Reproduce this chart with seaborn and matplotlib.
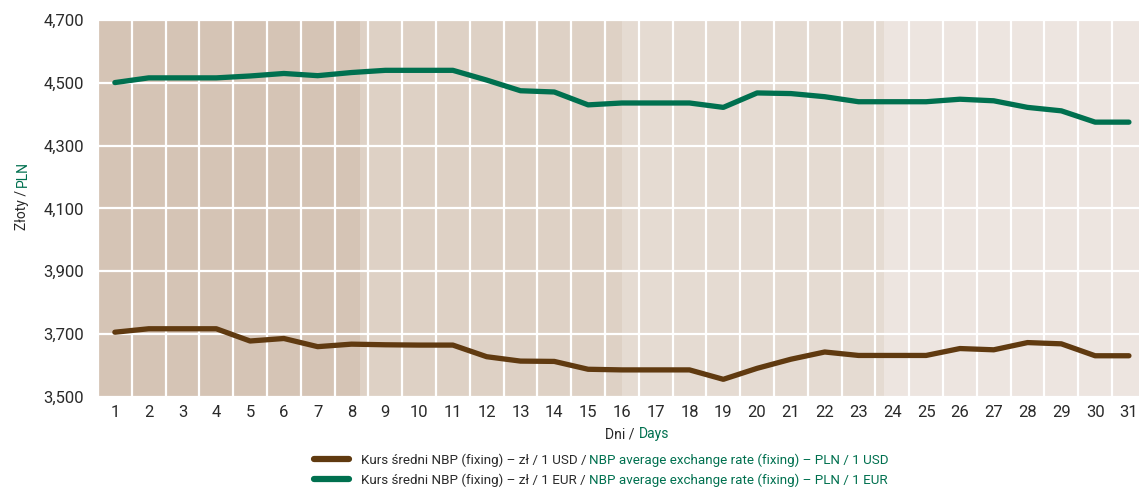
import numpy as np
import pandas as pd
import matplotlib.pyplot as plt
import seaborn as sns
from matplotlib.lines import Line2D
from matplotlib.ticker import FuncFormatter, MultipleLocator

days = list(range(1, 32))
usd = [3706, 3717, 3717, 3717, 3678, 3686, 3660, 3668, 3666, 3665,
       3665, 3628, 3614, 3613, 3588, 3586, 3586, 3586, 3556, 3591,
       3620, 3643, 3632, 3632, 3632, 3654, 3650, 3673, 3669, 3631, 3631]
eur = [4501, 4516, 4516, 4516, 4522, 4530, 4523, 4533, 4540, 4540,
       4540, 4509, 4475, 4471, 4430, 4436, 4436, 4436, 4422, 4468,
       4466, 4456, 4440, 4440, 4440, 4448, 4443, 4422, 4411, 4375, 4375]
y_ticks = [3500, 3700, 3900, 4100, 4300, 4500, 4700]

usd_pl = "Kurs średni NBP (fixing) – zł / 1 USD / "
usd_en = "NBP average exchange rate (fixing) – PLN / 1 USD"
eur_pl = "Kurs średni NBP (fixing) – zł / 1 EUR / "
eur_en = "NBP average exchange rate (fixing) – PLN / 1 EUR"

BROWN = "#603a10"
GREEN = "#00704f"
band_colors = ["#d5c4b5", "#ded1c5", "#e5dbd2", "#ede5e0"]

df = pd.DataFrame({"day": days, "usd": usd, "eur": eur})

sns.set_style("white")
plt.rcParams["font.family"] = ["Roboto", "DejaVu Sans"]
plt.rcParams["text.color"] = "#2a2a2a"

fig = plt.figure(figsize=(11.39, 4.90), dpi=100)
ax = fig.add_axes([0.086, 0.190, 0.920, 0.769])

ax.set_xlim(0.5, 31.5)
ax.set_ylim(3500, 4700)

# four shaded vertical bands, darker on the left
x0, x1 = ax.get_xlim()
edges = np.linspace(x0, x1, len(band_colors) + 1)
for c, a, b in zip(band_colors, edges[:-1], edges[1:]):
    ax.axvspan(a, b, color=c, lw=0, zorder=0)

sns.lineplot(data=df, x="day", y="usd", ax=ax, color=BROWN, lw=3.8,
             solid_capstyle="round", zorder=3)
sns.lineplot(data=df, x="day", y="eur", ax=ax, color=GREEN, lw=3.8,
             solid_capstyle="round", zorder=3)

ax.set_xticks(days)
ax.xaxis.set_minor_locator(MultipleLocator(1, offset=0.5))
ax.set_yticks(y_ticks)
ax.yaxis.set_major_formatter(FuncFormatter(lambda v, p: f"{v:,.0f}"))
ax.grid(which="minor", axis="x", color="white", lw=1.6)
ax.grid(which="major", axis="y", color="white", lw=1.6)
ax.grid(which="major", axis="x", visible=False)
for s in ax.spines.values():
    s.set_visible(False)
ax.tick_params(which="both", length=0, labelsize=12, colors="#2a2a2a")
ax.tick_params(axis="x", pad=6)
ax.tick_params(axis="y", pad=10)

# axis titles, Polish in black, English in green
xl = ax.set_xlabel("Dni / ", fontsize=10, labelpad=5)
ax.annotate("Days", xy=(1, 0), xycoords=xl, ha="left", va="bottom",
            fontsize=10, color=GREEN)
yl = ax.set_ylabel("Złoty / ", fontsize=10, labelpad=10)
ax.annotate("PLN", xy=(0.5, 1), xycoords=yl, ha="center", va="bottom",
            rotation=90, fontsize=10, color=GREEN)

handles = [Line2D([], [], color=BROWN, lw=4.5), Line2D([], [], color=GREEN, lw=4.5)]
leg = fig.legend(handles, [usd_pl, eur_pl], loc="lower left",
                 bbox_to_anchor=(0.265, -0.018), frameon=False, fontsize=9.6,
                 handlelength=2.6, handletextpad=0.9, labelspacing=0.5)
for t, en in zip(leg.get_texts(), [usd_en, eur_en]):
    fig.add_artist(plt.Annotation(en, xy=(1, 0), xycoords=t, ha="left",
                                  va="bottom", fontsize=9.6, color=GREEN,
                                  zorder=10))

fig.savefig("out.png", dpi=100)
